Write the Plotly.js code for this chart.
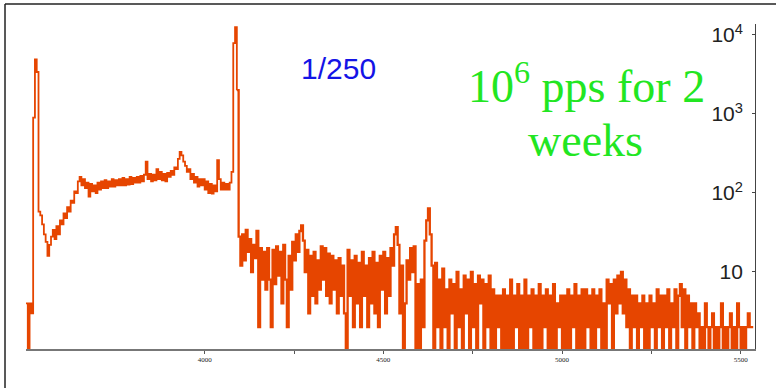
<!DOCTYPE html>
<html>
<head>
<meta charset="utf-8">
<script src="https://cdn.plot.ly/plotly-3.0.1.min.js"></script>
<style>
html,body{margin:0;padding:0;background:#fff;}
#chart{width:776px;height:388px;}
</style>
</head>
<body>
<div id="chart"></div>
<script>
// Spectrum: counts per channel bin (log scale)
const binStart = 3500;
const binWidth = 5;

const leftEdge = [4,1,4,3,900,4900,3400,58];
const dipAndRise = [52,40,30,24,16,22,28,34,26,38,30,45,40,55,48,66,58,80,75,105,100,140,160];
const plateau = [125,150,115,135,90,130,105,125,100,135,110,140,115,145,115,140,120,150,120,145,125,150,125,155,125,150,128,160,130,155,135,160,135,165,140,170];
const bump = [250,150,175,140,170,145,200,150,185,145,175,140,180,160,190,170,210,200,
              270,330,300,250,220,185,200,150,175,135,160,120,150,125,150,
              110,140,100,130,98,125,105,260,150,110,135,110,130,110,135,185];
const edgePeak = [7900,12600,2000];
const tailA = [28,12,30,14,34,18,26,10,22,15,33,2,20,8,18,
               6,20,8,2,19,7,21,9,18,4,22,8,2,16,6,24,
               14,30,18,33,39,25,10,19,3,16,5,18,4,14,6,21,8,20,5,17,4,16,6,14,3,15,5,12,3,1,19,5,14,2,16,4,13,2,18,5,12,2,15,4,18,3,13,2,16];
const tailB = [6,18,3,15,5,20,12,30,37,22,
               3,12,1,4,14,8,20,10,21,1,
               7,1,8,2,25,45,64,30,12,1,
               13,2,8,1,11,2,6,1,8,3,
               7,1,10,2,6,1,9,3,8,1,
               10,2,7,1,9,4,8,1,7,2,
               9,1,6,1,5,2];
const tailC = [5,1,6,1,5,1,8,1,5,2,
               7,1,5,1,8,1,5,2,6,1,
               5,1,7,1,5,2,6,1,5,1,
               7,1,4,2,5,1,5,1,6,1,
               5,2,7,1,5,1,6,1,6,2,
               5,1,6,1,5,2,6,1,4,1,
               8,4,7,1,8,3,9,4,10,3,
               8,2];
const tailD = [6,1,5,2,5,1,4,2,5,1,
               4,1,5,2,4,1,6,2,5,1,
               5,2,6,1,4,2,6,1,5,7,
               2,6,1,5,2,4,1,4,2,
               3,1,2,1,4,2,1,2,3,1,
               2,1,2,4,1,2,1,2,3,1,
               2,1,4,2,1,2,1,2,3,2,
               2,2];

const xTickVals = [4000,4500,5000,5500];
const xTickText = ['4000','4500','5000','5500'];
const xMinorTickVals = [4250,4750,5250];
const yTickVals = [10,100,1000,10000];
const yTickText = ['10','10<sup>2</sup>','10<sup>3</sup>','10<sup>4</sup>'];

// smooth low-energy part and noisy high-energy tail share the same bins
const headCounts = [].concat(leftEdge, dipAndRise, plateau, bump, edgePeak);
const tailCounts = [edgePeak[edgePeak.length - 1]].concat(tailA, tailB, tailC, tailD);

const lineColor = '#e64500';
const traces = [
  {
    type: 'scatter', mode: 'lines',
    x0: binStart, dx: binWidth, y: headCounts,
    line: {shape: 'hv', color: lineColor, width: 1.8}
  },
  {
    type: 'scatter', mode: 'lines',
    x0: binStart + binWidth * (headCounts.length - 1), dx: binWidth, y: tailCounts,
    line: {shape: 'hv', color: lineColor, width: 2.3}
  },
  // invisible carrier so the label axis is drawn
  {type: 'scatter', mode: 'lines', x: [], y: [], yaxis: 'y2', showlegend: false, hoverinfo: 'skip'}
];

const layout = {
  width: 776,
  height: 388,
  margin: {l: 26, r: 21, t: 24, b: 39},
  paper_bgcolor: '#ffffff',
  plot_bgcolor: '#ffffff',
  showlegend: false,
  xaxis: {
    type: 'linear',
    range: [3500, 5540],
    showgrid: false,
    zeroline: false,
    showline: true,
    linecolor: '#777777',
    linewidth: 1.5,
    ticks: 'outside',
    ticklen: 3,
    tickcolor: '#555555',
    tickvals: xTickVals,
    ticktext: xTickText,
    tickfont: {family: 'Liberation Serif', size: 7, color: '#222222'},
    minor: {tickvals: xMinorTickVals, ticks: 'outside', ticklen: 3, tickcolor: '#555555', showgrid: false}
  },
  yaxis: {
    type: 'log',
    range: [0.025, 4.139],
    side: 'right',
    showgrid: false,
    zeroline: false,
    showline: true,
    linecolor: '#444444',
    linewidth: 1,
    ticks: 'inside',
    ticklen: 3,
    tickcolor: '#444444',
    tickvals: yTickVals,
    showticklabels: false
  },
  yaxis2: {
    type: 'log',
    range: [0.025, 4.139],
    overlaying: 'y',
    anchor: 'free',
    side: 'left',
    position: 0.9835,
    showgrid: false,
    zeroline: false,
    showline: false,
    ticks: '',
    tickvals: yTickVals,
    ticktext: yTickText,
    tickfont: {family: 'Liberation Sans', size: 21, color: '#222222'}
  },
  annotations: [
    {xref: 'paper', yref: 'paper', x: 0.428, y: 0.862, xanchor: 'center', yanchor: 'middle',
     text: '1/250', showarrow: false, font: {family: 'Liberation Sans', size: 30, color: '#1414e6'}},
    {xref: 'paper', yref: 'paper', x: 0.7695, y: 0.818, xanchor: 'center', yanchor: 'middle',
     text: '10<sup>6</sup> pps for 2', showarrow: false, font: {family: 'Liberation Serif', size: 46, color: '#22e622'}},
    {xref: 'paper', yref: 'paper', x: 0.768, y: 0.643, xanchor: 'center', yanchor: 'middle',
     text: 'weeks', showarrow: false, font: {family: 'Liberation Serif', size: 46, color: '#22e622'}}
  ],
  shapes: [
    {type: 'line', xref: 'paper', yref: 'paper', x0: -0.0288, x1: 1.1, y0: 1.0615, y1: 1.0615,
     line: {color: '#222222', width: 1.5}},
    {type: 'line', xref: 'paper', yref: 'paper', x0: -0.0288, x1: -0.0288, y0: 1.0615, y1: -0.2,
     line: {color: '#222222', width: 1.5}}
  ]
};

Plotly.newPlot('chart', traces, layout, {displayModeBar: false, staticPlot: true});
</script>
</body>
</html>
